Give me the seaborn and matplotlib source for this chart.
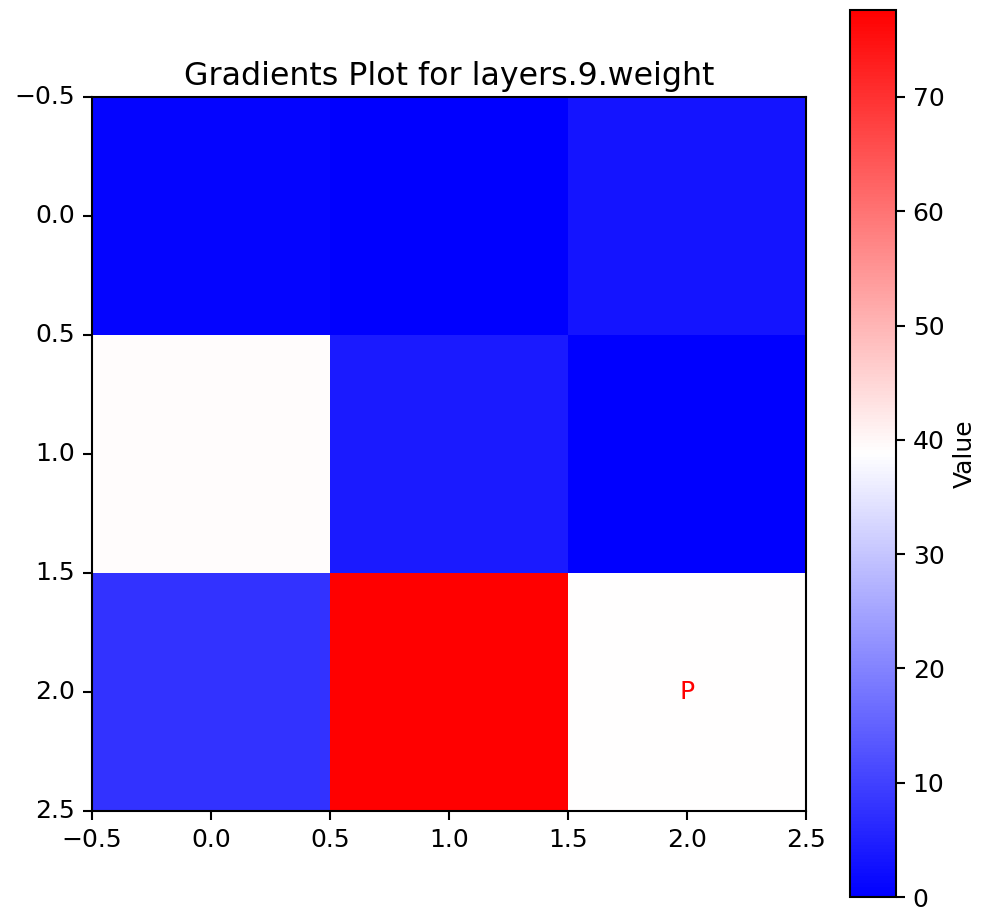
import numpy as np
import pandas as pd
import matplotlib
matplotlib.use('Agg')
import matplotlib.pyplot as plt
import seaborn as sns

# gradient magnitudes per cell (rows top->bottom)
row0 = [0.8, 0.0, 3.3]
row1 = [39.4, 4.0, 0.2]
row2 = [7.8, 77.6, 38.8]
mark_row, mark_col, mark_text = 2, 2, 'P'
tick_labels = ['-0.5', '0.0', '0.5', '1.0', '1.5', '2.0', '2.5']

grid = pd.DataFrame([row0, row1, row2])

fig = plt.figure(figsize=(987 / 150, 913 / 150), dpi=150)
ax = fig.add_axes([0.0932, 0.1117, 0.7234, 0.782])
cax = fig.add_axes([0.8612, 0.0175, 0.0466, 0.9715])

sns.heatmap(grid, ax=ax, cbar_ax=cax, cmap='bwr', square=True,
            vmin=grid.values.min(), vmax=grid.values.max(),
            cbar_kws={'label': 'Value'})

# imshow-like ticks on the cell edges
pos = np.arange(0, 3.01, 0.5)
labs = [t.replace('-', '\u2212') for t in tick_labels]
ax.set_xticks(pos)
ax.set_xticklabels(labs, rotation=0)
ax.set_yticks(pos)
ax.set_yticklabels(labs, rotation=0)
ax.tick_params(length=4.5, width=1, labelsize=12)
for s in ax.spines.values():
    s.set_visible(True)
    s.set_linewidth(1)

ax.text(mark_col + 0.5, mark_row + 0.5, mark_text, color='red',
        ha='center', va='center', fontsize=12)
ax.set_title('Gradients Plot for layers.9.weight', fontsize=15.2)

cb = ax.collections[0].colorbar
cb.outline.set_linewidth(1)
cb.outline.set_visible(True)
cb.set_ticks(range(0, 71, 10))
cb.set_label('Value', fontsize=12)
cax.tick_params(length=4.5, width=1, labelsize=12)

fig.savefig('out.png', dpi=150)
